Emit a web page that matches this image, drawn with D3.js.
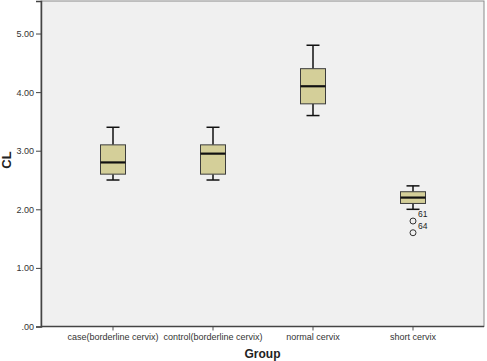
<!DOCTYPE html>
<html><head><meta charset="utf-8">
<script src="https://cdn.jsdelivr.net/npm/d3@7"></script>
<style>body{margin:0;background:#fff}svg{display:block}text{font-family:Arial,"Liberation Sans",sans-serif}</style>
</head><body>
<svg id="c" width="487" height="361"></svg>
<script>
const categories = ["case(borderline cervix)", "control(borderline cervix)", "normal cervix", "short cervix"];
const whiskerLow  = [2.5, 2.5, 3.6, 2.0];
const q1          = [2.6, 2.6, 3.8, 2.1];
const medians     = [2.8, 2.95, 4.1, 2.2];
const q3          = [3.1, 3.1, 4.4, 2.3];
const whiskerHigh = [3.4, 3.4, 4.8, 2.4];
const outlierGroup = ["short cervix", "short cervix"];
const outlierValues = [1.8, 1.6];
const outlierLabels = ["61", "64"];
const yTicks = [0, 1, 2, 3, 4, 5];
const yTickLabels = [".00", "1.00", "2.00", "3.00", "4.00", "5.00"];

const svg = d3.select("#c");
const L = 41, R = 484, T = 1, B = 326.5;
const x = d3.scaleBand().domain(categories).range([63, 463]);
const y = d3.scaleLinear().domain([0, 5.555]).range([B, T]);

svg.append("rect").attr("x", L).attr("y", T).attr("width", R - L).attr("height", B - T)
  .attr("fill", "#f0f0f0").attr("stroke", "#8a8a8a").attr("stroke-width", 1);

// y axis
const ya = svg.append("g").attr("transform", `translate(${L},0)`)
  .call(d3.axisLeft(y).tickValues(yTicks).tickFormat((d, i) => yTickLabels[i]).tickSize(5).tickPadding(2));
ya.select(".domain").attr("stroke", "#444").attr("stroke-width", 1.5);
ya.selectAll(".tick line").attr("stroke", "#444");
ya.selectAll(".tick text").attr("font-size", 9).attr("fill", "#333");

// x axis
const xa = svg.append("g").attr("transform", `translate(0,${B})`)
  .call(d3.axisBottom(x).tickSize(4).tickPadding(3));
xa.select(".domain").remove();
svg.append("line").attr("x1", L).attr("x2", R).attr("y1", B).attr("y2", B).attr("stroke", "#444").attr("stroke-width", 1.5);
xa.selectAll(".tick line").attr("stroke", "#555");
xa.selectAll(".tick text").attr("font-size", 9).attr("fill", "#333");

const bw = 25, cw = 13;
const g = svg.append("g");
categories.forEach((c, i) => {
  const cx = x(c) + x.bandwidth() / 2;
  g.append("line").attr("x1", cx).attr("x2", cx).attr("y1", y(whiskerHigh[i])).attr("y2", y(q3[i])).attr("stroke", "#111").attr("stroke-width", 1.5);
  g.append("line").attr("x1", cx).attr("x2", cx).attr("y1", y(q1[i])).attr("y2", y(whiskerLow[i])).attr("stroke", "#111").attr("stroke-width", 1.5);
  g.append("line").attr("x1", cx - cw / 2).attr("x2", cx + cw / 2).attr("y1", y(whiskerHigh[i])).attr("y2", y(whiskerHigh[i])).attr("stroke", "#111").attr("stroke-width", 1.5);
  g.append("line").attr("x1", cx - cw / 2).attr("x2", cx + cw / 2).attr("y1", y(whiskerLow[i])).attr("y2", y(whiskerLow[i])).attr("stroke", "#111").attr("stroke-width", 1.5);
  g.append("rect").attr("x", cx - bw / 2).attr("y", y(q3[i])).attr("width", bw).attr("height", y(q1[i]) - y(q3[i]))
    .attr("fill", "#d4cf99").attr("stroke", "#3c3c3c").attr("stroke-width", 1);
  g.append("line").attr("x1", cx - bw / 2).attr("x2", cx + bw / 2).attr("y1", y(medians[i])).attr("y2", y(medians[i])).attr("stroke", "#111").attr("stroke-width", 2.2);
});

outlierValues.forEach((v, i) => {
  const cx = x(outlierGroup[i]) + x.bandwidth() / 2;
  g.append("circle").attr("cx", cx).attr("cy", y(v)).attr("r", 3).attr("fill", "none").attr("stroke", "#333").attr("stroke-width", 1);
  g.append("text").attr("x", cx + 5).attr("y", y(v) - 4).attr("font-size", 8.5).attr("fill", "#222").text(outlierLabels[i]);
});

svg.append("text").attr("transform", `translate(11,160) rotate(-90)`).attr("text-anchor", "middle")
  .attr("font-size", 13).attr("font-weight", "bold").attr("fill", "#222").text("CL");
svg.append("text").attr("x", (L + R) / 2).attr("y", 358).attr("text-anchor", "middle")
  .attr("font-size", 12).attr("font-weight", "bold").attr("fill", "#222").text("Group");
</script>
</body></html>
